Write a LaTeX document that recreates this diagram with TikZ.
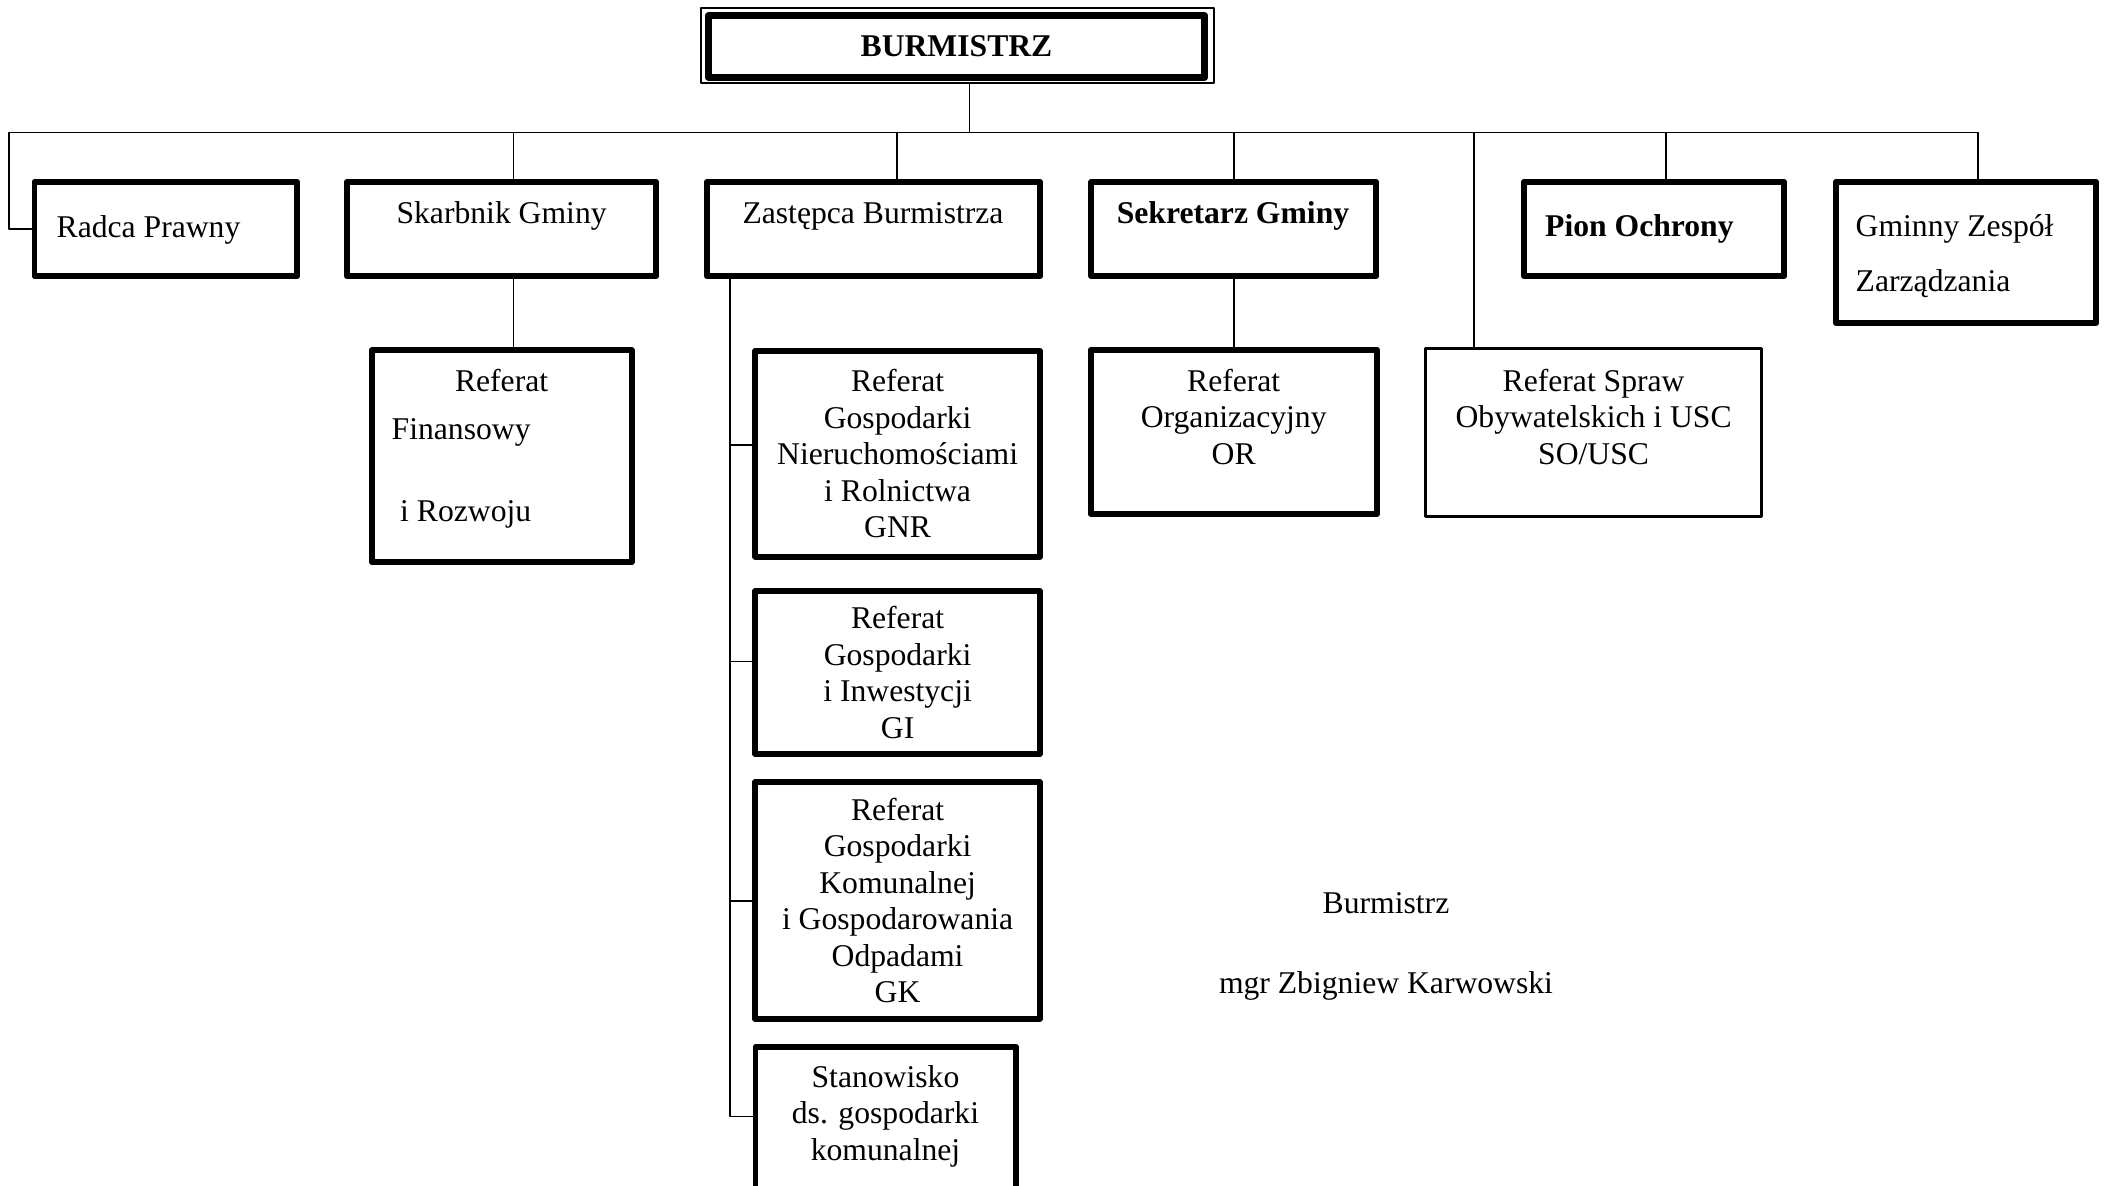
\documentclass[tikz,border=0pt]{standalone}
\usepackage{fontspec}
\setmainfont{Liberation Serif}
\begin{document}
\begin{tikzpicture}[x=0.01cm,y=-0.01cm,line cap=round,line join=round,
  font=\fontsize{9pt}{10.4pt}\selectfont,
  box/.style={draw,line width=1.6pt,inner sep=0pt},
  thinbox/.style={draw,line width=1pt,inner sep=0pt},
  txt/.style={inner sep=0pt,align=center},
  conn/.style={line width=0.45pt}]
\useasboundingbox (0,0) rectangle (2105,1186);
\clip (0,0) rectangle (2105,1186);
% top box
\node[draw,line width=0.6pt,minimum width=5.129cm,minimum height=0.749cm] (burmFrame) at (957.5,45.5) {};
\node[draw,line width=1.9pt,minimum width=4.963cm,minimum height=0.616cm,font=\fontsize{9pt}{10.4pt}\selectfont\bfseries] (burm) at (956.5,46.5) {BURMISTRZ};
% first row
\node[box,minimum width=2.628cm,minimum height=0.944cm] (radca) at (165.8,229) {};
\node[box,minimum width=3.094cm,minimum height=0.944cm] (skarbnik) at (501.5,229) {};
\node[box,minimum width=3.334cm,minimum height=0.944cm] (zastepca) at (873.5,229) {};
\node[box,minimum width=2.849cm,minimum height=0.944cm] (sekretarz) at (1233.75,229) {};
\node[box,minimum width=2.604cm,minimum height=0.944cm] (pion) at (1654,229) {};
\node[box,minimum width=2.604cm,minimum height=1.414cm] (gminny) at (1966,252.5) {};
\node[txt,anchor=west] (radcaT) at (56,229.5) {Radca Prawny};
\node[txt] (skarbnikT) at (501.6,216) {Skarbnik Gminy};
\node[txt] (zastepcaT) at (873,216) {Zastępca Burmistrza};
\node[txt,font=\fontsize{9pt}{10.4pt}\selectfont\bfseries] (sekretarzT) at (1233,216) {Sekretarz Gminy};
\node[txt,font=\fontsize{9pt}{10.4pt}\selectfont\bfseries] (pionT) at (1639.4,229) {Pion Ochrony};
\node[txt,anchor=west,align=left] (gminnyT) at (1855,256.5) {Gminny Zespół\\[5.2pt]Zarządzania};
% second row
\node[box,minimum width=2.599cm,minimum height=2.119cm] (fin) at (501.75,456.25) {};
\node[txt] (finT1) at (501.6,381) {Referat};
\node[txt,anchor=west] (finT2) at (391,432) {Finansowy};
\node[txt,anchor=west] (finT3) at (399.5,514) {i Rozwoju};
\node[box,minimum width=2.846cm,minimum height=2.059cm,align=center] (gnr) at (897.6,453.75) {Referat\\Gospodarki\\Nieruchomościami\\i Rolnictwa\\GNR};
\node[box,minimum width=2.846cm,minimum height=1.628cm,align=center] (gi) at (897.6,672.5) {Referat\\Gospodarki\\i Inwestycji\\GI};
\node[box,minimum width=2.846cm,minimum height=2.368cm,align=center] (gk) at (897.6,900.5) {Referat\\Gospodarki\\Komunalnej\\i Gospodarowania\\Odpadami\\GK};
\node[box,minimum width=2.602cm,minimum height=1.904cm] (stan) at (885.8,1142) {};
\node[txt] (stanT) at (885.5,1116) {Stanowisko\\ds. gospodarki\\komunalnej};
\node[box,minimum width=2.861cm,minimum height=1.644cm] (orgRef) at (1233.85,432) {};
\node[txt] (orgRefT) at (1233.7,417) {Referat\\Organizacyjny\\OR};
\node[thinbox,minimum width=3.355cm,minimum height=1.675cm] (spraw) at (1593.5,432.5) {};
\node[txt] (sprawT) at (1593.6,416.7) {Referat Spraw\\Obywatelskich i USC\\SO/USC};
% signature
\node[txt] (sig1) at (1386,903) {Burmistrz};
\node[txt] (sig2) at (1386,986) {mgr Zbigniew Karwowski};
% connectors
\coordinate (trunk) at (969.5,132.7);
\coordinate (busL) at (9.1,132.7);
\coordinate (busR) at (1978,132.7);
\coordinate (dSkarb) at (513.5,132.7);
\coordinate (dZast) at (897,132.7);
\coordinate (dSekr) at (1233.7,132.7);
\coordinate (dSpraw) at (1474,132.7);
\coordinate (dPion) at (1666,132.7);
\draw[conn] (trunk |- burmFrame.south) -- (trunk);
\draw[conn] (busL) -- (busR);
\draw[conn] (busL) |- (radca.west);
\foreach \d/\n in {dSkarb/skarbnik,dZast/zastepca,dSekr/sekretarz,dSpraw/spraw,dPion/pion,busR/gminny}
  \draw[conn] (\d) -- (\d |- \n.north);
\draw[conn] (dSkarb |- skarbnik.south) -- (dSkarb |- fin.north);
\draw[conn] (dSekr |- sekretarz.south) -- (dSekr |- orgRef.north);
\coordinate (zGnr) at (730,445);
\coordinate (zGi) at (730,661.7);
\coordinate (zGk) at (730,901);
\coordinate (zBot) at (730,1116.7);
\draw[conn] (zBot |- zastepca.south) -- (zBot) -- (zBot -| stan.west);
\draw[conn] (zGnr) -- (zGnr -| gnr.west);
\draw[conn] (zGi) -- (zGi -| gi.west);
\draw[conn] (zGk) -- (zGk -| gk.west);
\end{tikzpicture}
\end{document}
